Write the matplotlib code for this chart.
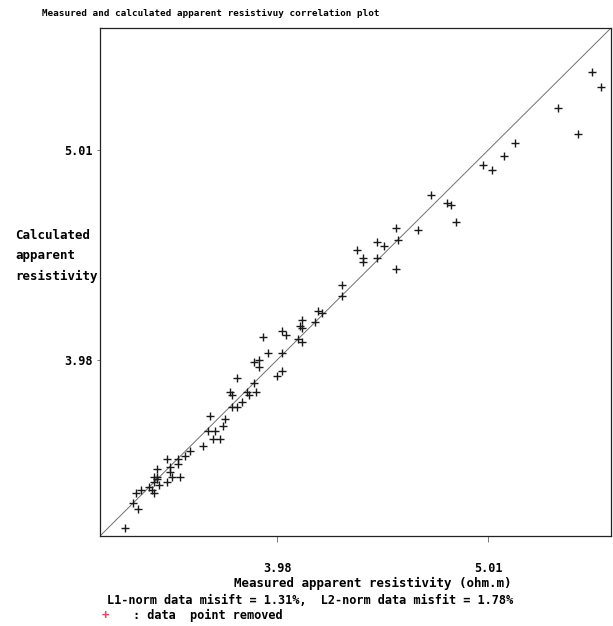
import matplotlib
matplotlib.use("Agg")
import matplotlib.pyplot as plt
from matplotlib.ticker import NullLocator

# measured vs calculated apparent resistivity (ohm.m)
measured = [
    3.37, 3.42, 3.40, 3.41, 3.43, 3.46, 3.47, 3.48, 3.49, 3.49,
    3.48, 3.49, 3.48, 3.50, 3.53, 3.55, 3.58, 3.53, 3.57, 3.54,
    3.57, 3.54, 3.60, 3.62, 3.67, 3.69, 3.72, 3.71, 3.74, 3.75,
    3.76, 3.70, 3.79, 3.81, 3.83, 3.85, 3.86, 3.89, 3.78, 3.79,
    3.88, 3.81, 3.88, 3.90, 3.90, 3.98, 4.00, 3.94, 4.00, 3.92,
    4.00, 4.02, 4.07, 4.09, 4.09, 4.08, 4.09, 4.15, 4.16, 4.18,
    4.27, 4.27, 4.37, 4.37, 4.34, 4.44, 4.44, 4.47, 4.53, 4.54,
    4.53, 4.64, 4.71, 4.79, 4.81, 4.84, 4.98, 5.03, 5.10, 5.16,
    5.41, 5.53, 5.61, 5.67,
]
calculated = [
    3.31, 3.38, 3.40, 3.44, 3.45, 3.46, 3.45, 3.44, 3.53, 3.50,
    3.50, 3.49, 3.48, 3.47, 3.48, 3.50, 3.50, 3.57, 3.57, 3.54,
    3.55, 3.52, 3.58, 3.60, 3.62, 3.68, 3.68, 3.65, 3.65, 3.70,
    3.73, 3.74, 3.78, 3.78, 3.80, 3.84, 3.83, 3.84, 3.84, 3.83,
    3.88, 3.90, 3.97, 3.98, 3.95, 3.91, 3.93, 4.01, 4.01, 4.08,
    4.11, 4.09, 4.07, 4.06, 4.16, 4.13, 4.12, 4.15, 4.20, 4.19,
    4.27, 4.32, 4.43, 4.45, 4.49, 4.45, 4.53, 4.51, 4.40, 4.54,
    4.60, 4.59, 4.77, 4.73, 4.72, 4.63, 4.93, 4.90, 4.98, 5.05,
    5.25, 5.10, 5.46, 5.37,
]

axis_range = [3.28, 5.73]
tick_values = [3.98, 5.01]
tick_labels = ["3.98", "5.01"]

title = "Measured and calculated apparent resistivuy correlation plot"
xlabel = "Measured apparent resistivity (ohm.m)"
ylabel = "Calculated\napparent\nresistivity"
misfit_text = "L1-norm data misift = 1.31%,  L2-norm data misfit = 1.78%"
removed_text = ": data  point removed"

plt.rcParams["font.family"] = ["DejaVu Sans Mono"]
plt.rcParams["font.weight"] = "bold"

W, H = 613, 626
fig = plt.figure(figsize=(W / 100, H / 100), dpi=100)
ax = fig.add_axes([100 / W, 1 - 536 / H, 511 / W, 508 / H])

ax.plot(axis_range, axis_range, color="#707070", lw=0.7)
ax.plot(measured, calculated, "+", color="#1a1a1a", ms=6, mew=1.0)

ax.set_xscale("log")
ax.set_yscale("log")
ax.set_xlim(axis_range)
ax.set_ylim(axis_range)
ax.xaxis.set_minor_locator(NullLocator())
ax.yaxis.set_minor_locator(NullLocator())
ax.set_xticks(tick_values)
ax.set_xticklabels(tick_labels)
ax.set_yticks(tick_values)
ax.set_yticklabels(tick_labels)
ax.tick_params(axis="x", length=4.5, width=0.7, color="#777777", pad=14, labelsize=8.5)
ax.tick_params(axis="y", length=2.5, width=0.7, color="#777777", pad=3, labelsize=8.5)
for s in ax.spines.values():
    s.set_linewidth(0.9)
    s.set_color("#222222")

fig.text(42 / W, 1 - 13 / H, title, fontsize=6.7, va="center", ha="left")
fig.text(15 / W, 1 - 256 / H, ylabel, fontsize=9, va="center", ha="left",
         linespacing=1.7)
fig.text(373 / W, 1 - 583.5 / H, xlabel, fontsize=9, va="center", ha="center")
fig.text(107 / W, 1 - 601 / H, misfit_text, fontsize=8.6, va="center", ha="left")
fig.text(105 / W, 1 - 615 / H, "+", fontsize=9, color="#f04a5a", va="center",
         ha="center", fontweight="bold")
fig.text(133 / W, 1 - 615 / H, removed_text, fontsize=8.6, va="center", ha="left")

fig.savefig("out.png", dpi=100)
